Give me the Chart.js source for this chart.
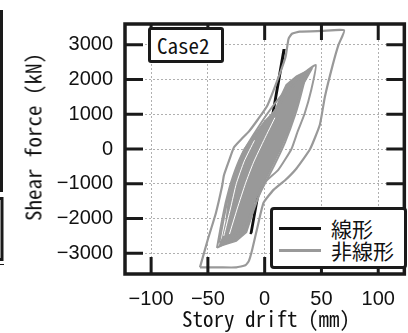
<!DOCTYPE html>
<html lang="ja">
<head>
<meta charset="UTF-8">
<title>Case2</title>
<script src="https://cdn.jsdelivr.net/npm/chart.js"></script>
<style>
  html, body { margin: 0; padding: 0; background: #fff; }
  .wrap { position: relative; width: 408px; height: 333px; overflow: hidden; }
  canvas { position: absolute; left: 0; top: 0; }
  .lbl {
    position: absolute; color: #111; white-space: nowrap;
    font-family: "Noto Sans CJK JP", sans-serif; font-size: 21px;
    font-feature-settings: "hwid" 1; line-height: 1;
  }
  .case-box {
    position: absolute; left: 148px; top: 27px; width: 70px; height: 30px;
    border: 3px solid #1a1a1a; border-radius: 3px; background: #fff;
  }
  .legend {
    position: absolute; left: 270px; top: 207px; width: 131px; height: 56px;
    border: 3px solid #1a1a1a; border-radius: 4px; background: #fff;
  }
  .legend .key { position: absolute; left: 6px; width: 42px; height: 3px; }
</style>
</head>
<body>
<div class="wrap">
  <canvas id="loopChart" width="408" height="333"></canvas>
  <div class="case-box"><span class="lbl" style="left:6px;top:5px;">Case2</span></div>
  <div class="legend">
    <div class="key" style="top:17px;background:#111;"></div>
    <span class="lbl" style="left:58px;top:8px;">線形</span>
    <div class="key" style="top:39px;background:#999;"></div>
    <span class="lbl" style="left:58px;top:30px;">非線形</span>
  </div>
  <span class="lbl" style="left:266px;top:318px;transform:translate(-50%,-50%);">Story drift (mm)</span>
  <span class="lbl" style="left:33px;top:137px;transform:translate(-50%,-50%) rotate(-90deg);">Shear force (kN)</span>
</div>

<script>
// linear (black) response
const linDrift = [-12.5, -7, 0, 7, 16.5, 17.5, 8, 1, -6, -11.5, -12.5];
const linShear = [-2450, -1450, -150, 1040, 2850, 2850, 1100, -100, -1400, -2400, -2450];

// nonlinear: largest loop
const outerDrift = [-57, -50, -43, -37.6, -35.8, -31, -27, -20, -14, -6, 2, 10.5, 18.3, 21, 24, 31, 50, 70,
                    65, 60, 53, 48.6, 40, 28, 18, 8, -1, -6, -11, -14, -17, -25, -40, -57];
const outerShear = [-3410, -2600, -1850, -1090, -750, -300, 50, 300, 500, 850, 1230, 1920, 2640, 3170, 3320, 3380, 3400, 3420,
                    3000, 2430, 1500, 700, 0, -560, -900, -1170, -1550, -2200, -2900, -3230, -3350, -3410, -3410, -3410];

// nonlinear: second loop
const loopADrift = [-42, -39, -34, -28, -20, -10, 2, 15, 30, 45, 41, 35, 29, 23.6, 12, -1, -8, -15, -28, -42];
const loopAShear = [-2850, -2300, -1500, -800, -150, 400, 1000, 1550, 2050, 2420, 1700, 1000, 500, 0, -600, -1000, -1600, -2200, -2600, -2850];

// nonlinear: third loop
const loopBDrift = [-40, -36, -31, -24, -14, -2, 12, 25, 36, 33, 27, 18, 8, -3, -14, -25, -40];
const loopBShear = [-2700, -2000, -1200, -500, 100, 600, 1250, 1800, 2150, 1700, 1000, 200, -500, -1200, -2000, -2450, -2700];

// nonlinear: dense band of small cycles (outline)
const coreDrift = [42, 33, 28, 22, 14, 5, -2, -9, -12, -16, -25, -40, -37, -34, -32, -29, -24, -18, -8, 0, 9, 14, 19, 28, 42];
const coreShear = [2330, 1800, 1200, 600, 0, -600, -1050, -1500, -2000, -2400, -2650, -2800, -2550, -2100, -1500, -1000, -500, 0, 450, 800, 1100, 1500, 1850, 2100, 2330];

// gaps between cycles inside the band
const gap1Drift = [-36, -30, -25, -18, -9];
const gap1Shear = [-2500, -1700, -1000, -350, 250];
const gap2Drift = [-31, -24, -17, -10, 0, 9];
const gap2Shear = [-2450, -1700, -1000, -400, 300, 900];

const xTicks = [-100, -50, 0, 50, 100];
const yTicks = [-3000, -2000, -1000, 0, 1000, 2000, 3000];

const GRAY = '#999999';
const INK = '#111111';

function pts(xs, ys) {
  return xs.map((x, i) => ({ x: x, y: ys[i] }));
}

function curve(xs, ys, color, width, extra) {
  return Object.assign({
    data: pts(xs, ys),
    showLine: true,
    borderColor: color,
    borderWidth: width,
    pointRadius: 0,
    tension: 0.15,
    fill: false
  }, extra || {});
}

// frame, inward ticks, and the cut-off neighbour panel on the left edge
const framePlugin = {
  id: 'frame',
  afterDraw(chart) {
    const { ctx, chartArea: a, scales } = chart;
    ctx.save();
    ctx.strokeStyle = '#1a1a1a';
    ctx.lineWidth = 3;
    xTicks.forEach(v => {
      const px = scales.x.getPixelForValue(v);
      ctx.beginPath();
      ctx.moveTo(px, a.top); ctx.lineTo(px, a.top + 16);
      ctx.moveTo(px, a.bottom); ctx.lineTo(px, a.bottom - 17);
      ctx.stroke();
    });
    yTicks.forEach(v => {
      const py = scales.y.getPixelForValue(v);
      ctx.beginPath();
      ctx.moveTo(a.left, py); ctx.lineTo(a.left + 18, py);
      ctx.moveTo(a.right, py); ctx.lineTo(a.right - 18, py);
      ctx.stroke();
    });
    ctx.lineWidth = 3.5;
    ctx.strokeRect(a.left, a.top, a.right - a.left, a.bottom - a.top);

    ctx.lineWidth = 3;
    ctx.beginPath();
    ctx.moveTo(1.5, 10); ctx.lineTo(1.5, 192);
    ctx.stroke();
    ctx.strokeRect(-10, 198.5, 12, 61);
    ctx.lineWidth = 1;
    ctx.beginPath();
    ctx.moveTo(0, 264.5); ctx.lineTo(4, 264.5);
    ctx.stroke();
    ctx.restore();
  }
};

const minusFmt = v => (v < 0 ? '\u2212' + Math.abs(v) : String(v));

new Chart(document.getElementById('loopChart'), {
  type: 'scatter',
  data: {
    datasets: [
      curve(outerDrift, outerShear, GRAY, 2.2, { label: '非線形' }),
      curve(loopADrift, loopAShear, GRAY, 2, { label: '非線形' }),
      curve(loopBDrift, loopBShear, GRAY, 2, { label: '非線形' }),
      curve(gap1Drift, gap1Shear, '#ffffff', 1, { label: '' }),
      curve(gap2Drift, gap2Shear, '#ffffff', 1, { label: '' }),
      curve(coreDrift, coreShear, GRAY, 1.5, { label: '非線形', fill: 'shape', backgroundColor: GRAY, tension: 0 }),
      curve(linDrift, linShear, '#111111', 2, { label: '線形', tension: 0 })
    ]
  },
  options: {
    responsive: false,
    animation: false,
    events: [],
    layout: { padding: { left: 0, right: 1, top: 4, bottom: 0 } },
    plugins: {
      legend: { display: false },
      tooltip: { enabled: false }
    },
    scales: {
      x: {
        type: 'linear',
        min: -123,
        max: 123,
        afterFit(scale) { scale.height = 59; },
        afterBuildTicks(scale) { scale.ticks = xTicks.map(v => ({ value: v })); },
        ticks: {
          padding: 13,
          color: INK,
          font: { family: 'Liberation Sans', size: 20 },
          callback: minusFmt
        },
        grid: { color: '#b0b0b0', lineWidth: 1, drawTicks: false },
        border: { display: false, dash: [2, 2] }
      },
      y: {
        type: 'linear',
        min: -3600,
        max: 3600,
        afterFit(scale) { scale.width = 125; },
        afterBuildTicks(scale) { scale.ticks = yTicks.map(v => ({ value: v })); },
        ticks: {
          padding: 12,
          color: INK,
          font: { family: 'Liberation Sans', size: 20 },
          callback: minusFmt
        },
        grid: { color: '#b0b0b0', lineWidth: 1, drawTicks: false },
        border: { display: false, dash: [2, 2] }
      }
    }
  },
  plugins: [framePlugin]
});
</script>
</body>
</html>
